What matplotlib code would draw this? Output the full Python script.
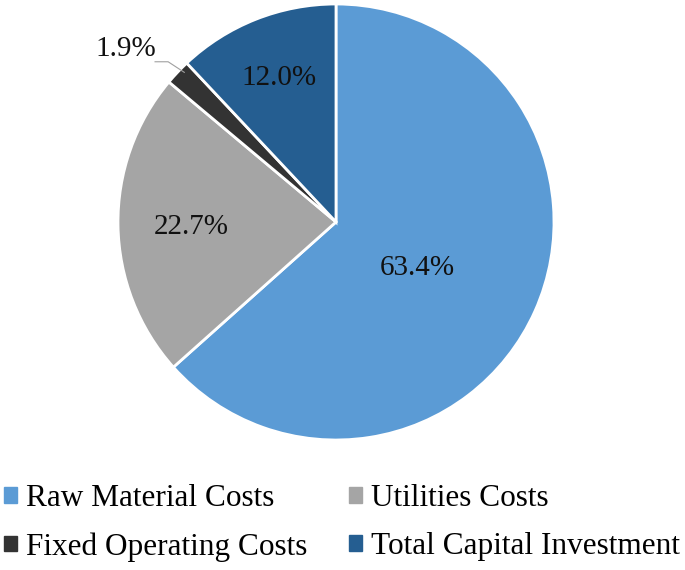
import matplotlib.pyplot as plt
import numpy as np

plt.rcParams['font.family'] = ['Liberation Serif', 'DejaVu Serif']

categories = ['Raw Material Costs', 'Utilities Costs', 'Fixed Operating Costs', 'Total Capital Investment']
shares = [63.4, 22.7, 1.9, 12.0]
colors = ['#5B9BD5', '#A5A5A5', '#333333', '#255E91']

fig = plt.figure(figsize=(6.85, 5.7), dpi=100)
W, H = 685, 570
cx, cy, r = 336, 222, 218
ax = fig.add_axes([(cx - r) / W, 1 - (cy + r) / H, 2 * r / W, 2 * r / H])

wedges, _ = ax.pie(shares, colors=colors, startangle=90, counterclock=False,
                   wedgeprops=dict(edgecolor='white', linewidth=2))
ax.set_xlim(-1, 1)
ax.set_ylim(-1, 1)

# label placement (radius, angle offset) per slice
label_r = [0.43, 0.665, 1.25, 0.71]
label_da = [-5.5, 1, 4, 0]
for w, s, lr, da in zip(wedges, shares, label_r, label_da):
    mid = np.deg2rad((w.theta1 + w.theta2) / 2 + da)
    x, y = lr * np.cos(mid), lr * np.sin(mid)
    ax.text(x, y, f'{s:.1f}%', ha='center', va='center', fontsize=21, color='#111111')

# leader line for the small slice
w = wedges[2]
mid = np.deg2rad((w.theta1 + w.theta2) / 2)
ax.plot([-0.83, -0.77, 0.985 * np.cos(mid) + 0.02], [0.735, 0.735, 0.985 * np.sin(mid) + 0.01],
        color='#A0A0A0', lw=0.8, clip_on=False)

# row-major legend order: fill columns so rows read across
order = [0, 2, 1, 3]
handles = [plt.Rectangle((0, 0), 1, 1, color=colors[i]) for i in order]
fig.legend(handles, [categories[i] for i in order], ncol=2, loc='center left',
           bbox_to_anchor=(4 / W, 1 - 523 / H), frameon=False, fontsize=22.5,
           handlelength=0.4, handleheight=0.4, handletextpad=0.3,
           columnspacing=1.35, labelspacing=0.6, borderaxespad=0, borderpad=0)

fig.savefig('out.png', dpi=100)
